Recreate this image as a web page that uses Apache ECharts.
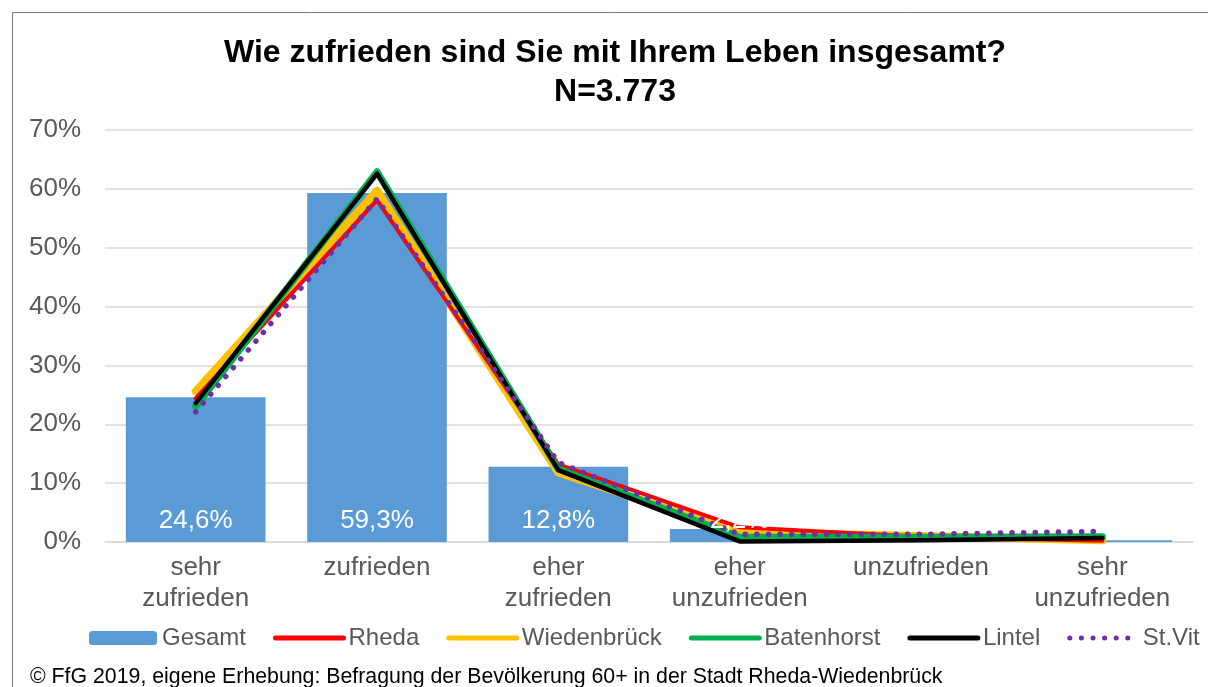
<!DOCTYPE html>
<html>
<head>
<meta charset="utf-8">
<script src="https://cdn.jsdelivr.net/npm/echarts@6/dist/echarts.min.js"></script>
<style>
  html, body { margin: 0; padding: 0; background: #ffffff; }
  #chart { width: 1208px; height: 687px; }
</style>
</head>
<body>
<div id="chart"></div>
<script>
// ---- Data ----
const categories = ['sehr\nzufrieden', 'zufrieden', 'eher\nzufrieden', 'eher\nunzufrieden', 'unzufrieden', 'sehr\nunzufrieden'];
const gesamt      = [24.6, 59.3, 12.8, 2.2, 0.6, 0.3];
const rheda       = [24.4, 58.1, 13.2, 2.5, 0.9, 0.2];
const wiedenbrueck= [25.6, 59.7, 11.8, 1.6, 1.0, 0.3];
const batenhorst  = [23.0, 62.9, 12.4, 0.8, 0.8, 0.9];
const lintel      = [23.6, 62.6, 12.2, 0.1, 0.3, 0.7];
const stvit       = [22.1, 58.3, 13.5, 1.3, 1.3, 1.8];
const yTicks = [0, 10, 20, 30, 40, 50, 60, 70];
const legendNames = ['Gesamt', 'Rheda', 'Wiedenbrück', 'Batenhorst', 'Lintel', 'St.Vit'];

const titleLine1 = 'Wie zufrieden sind Sie mit Ihrem Leben insgesamt?';
const titleLine2 = 'N=3.773';
const footer = '© FfG 2019, eigene Erhebung: Befragung der Bevölkerung 60+ in der Stadt Rheda-Wiedenbrück';

const FONT = '"Liberation Sans", Arial, sans-serif';

const chart = echarts.init(document.getElementById('chart'), null, { renderer: 'canvas' });

function lineSeries(name, data, color, width, z, extra) {
  return Object.assign({
    name: name,
    type: 'line',
    data: data,
    symbol: 'none',
    z: z,
    lineStyle: { color: color, width: width, cap: 'round', join: 'round' },
    itemStyle: { color: color },
    emphasis: { disabled: true },
    animation: false
  }, extra || {});
}

const legendData = legendNames.map(function (n, i) {
  return i === 0 ? { name: n } : { name: n, itemStyle: { opacity: 0 } };
});

const option = {
  backgroundColor: '#ffffff',
  animation: false,
  textStyle: { fontFamily: FONT },
  grid: { left: 105, right: 15, top: 130, bottom: 145, containLabel: false },
  legend: {
    left: 89,
    top: 626,
    padding: 0,
    width: 1119,
    itemWidth: 68,
    itemHeight: 14,
    itemGap: 27,
    lineStyle: { width: 5, cap: 'round' },
    textStyle: { fontSize: 24, color: '#595959', fontFamily: FONT },
    data: legendData
  },
  graphic: [
    { type: 'rect', z: -10, silent: true,
      shape: { x: 12.5, y: 12.5, width: 1400, height: 900 },
      style: { fill: 'none', stroke: '#7a7a7a', lineWidth: 1 } },
    { type: 'text', silent: true,
      style: { text: titleLine1, x: 615, y: 53, textAlign: 'center', textVerticalAlign: 'middle',
               font: 'bold 32px ' + FONT, fill: '#000000' } },
    { type: 'text', silent: true,
      style: { text: titleLine2, x: 615, y: 92, textAlign: 'center', textVerticalAlign: 'middle',
               font: 'bold 32px ' + FONT, fill: '#000000' } },
    { type: 'text', silent: true,
      style: { text: footer, x: 30, y: 677, textAlign: 'left', textVerticalAlign: 'middle',
               font: '21.3px ' + FONT, fill: '#000000' } }
  ],
  xAxis: {
    type: 'category',
    data: categories,
    axisTick: { show: false },
    axisLine: { show: true, lineStyle: { color: '#d9d9d9', width: 1.5 } },
    axisLabel: { color: '#595959', fontSize: 26, lineHeight: 31, margin: 10, interval: 0, fontFamily: FONT }
  },
  yAxis: {
    type: 'value',
    min: yTicks[0],
    max: yTicks[yTicks.length - 1],
    interval: 10,
    axisLine: { show: false },
    axisTick: { show: false },
    splitLine: { lineStyle: { color: '#d9d9d9', width: 1.5 } },
    axisLabel: { color: '#595959', fontSize: 26, margin: 24, formatter: '{value}%', fontFamily: FONT }
  },
  series: [
    {
      name: 'Gesamt',
      type: 'bar',
      data: gesamt,
      z: 2,
      barCategoryGap: '23%',
      barGap: '-100%',
      itemStyle: { color: '#5b9bd5' },
      emphasis: { disabled: true },
      label: { show: false }
    },
    lineSeries('Wiedenbrück', wiedenbrueck, '#ffc000', 8, 3),
    lineSeries('Rheda', rheda, '#ff0000', 4, 4),
    lineSeries('Batenhorst', batenhorst, '#00b050', 7, 5),
    lineSeries('Lintel', lintel, '#000000', 4.5, 6),
    lineSeries('St.Vit', stvit, '#7030a0', 5.5, 7, {
      lineStyle: { color: '#7030a0', width: 5.5, type: [0.1, 11.5], cap: 'round', join: 'round' }
    }),
    {
      name: 'Gesamt-Werte',
      type: 'bar',
      data: gesamt,
      z: 10,
      barCategoryGap: '23%',
      barGap: '-100%',
      silent: true,
      itemStyle: { color: 'rgba(0,0,0,0)' },
      emphasis: { disabled: true },
      label: {
        show: true,
        position: 'insideBottom',
        distance: 8,
        color: '#ffffff',
        fontSize: 26,
        fontFamily: FONT,
        formatter: function (p) { return p.value >= 1 ? p.value.toFixed(1).replace('.', ',') + '%' : ''; }
      }
    }
  ]
};

chart.setOption(option);
</script>
</body>
</html>
